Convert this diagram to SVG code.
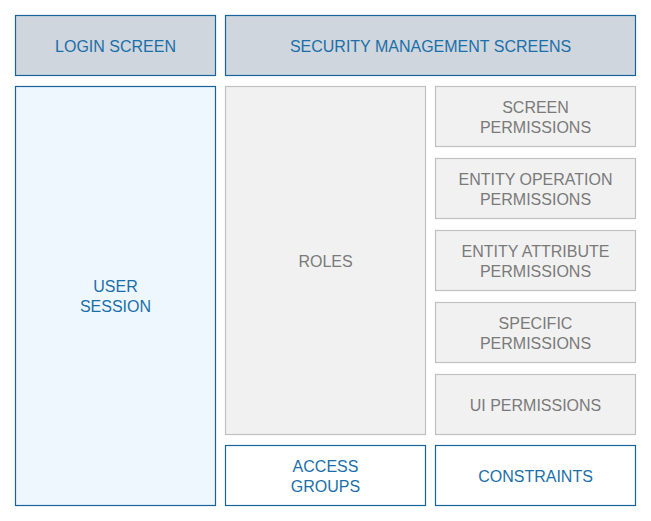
<svg xmlns="http://www.w3.org/2000/svg" width="651" height="521" viewBox="0 0 651 521">
<style>
rect{stroke-width:1.2}
.hdr{fill:#cfd6dd;stroke:#17649c}
.usr{fill:#eff7fe;stroke:#17649c}
.wht{fill:#ffffff;stroke:#17649c}
.gry{fill:#f1f1f1;stroke:#c0c0c0}
text{font-family:"Liberation Sans",Arial,sans-serif;font-size:16px;text-anchor:middle;dominant-baseline:central}
.bt{fill:#1b6fa9}
.gt{fill:#7a7a7a}
</style>
<rect width="651" height="521" fill="#ffffff" stroke="none"/>
<g id="login-screen"><rect class="hdr" x="15.5" y="15.5" width="200" height="60"/><text class="bt" x="115.5" y="46">LOGIN SCREEN</text></g>
<g id="security-management-screens"><rect class="hdr" x="225.5" y="15.5" width="410" height="60"/><text class="bt" x="430.5" y="46">SECURITY MANAGEMENT SCREENS</text></g>
<g id="user-session"><rect class="usr" x="15.5" y="86.5" width="200" height="419"/><text class="bt" x="115.5" y="286">USER</text><text class="bt" x="115.5" y="306">SESSION</text></g>
<g id="roles"><rect class="gry" x="225.5" y="86.5" width="200" height="348"/><text class="gt" x="325.5" y="261">ROLES</text></g>
<g id="screen-permissions"><rect class="gry" x="435.5" y="86.5" width="200" height="60"/><text class="gt" x="535.5" y="107">SCREEN</text><text class="gt" x="535.5" y="127">PERMISSIONS</text></g>
<g id="entity-operation-permissions"><rect class="gry" x="435.5" y="158.5" width="200" height="60"/><text class="gt" x="535.5" y="179">ENTITY OPERATION</text><text class="gt" x="535.5" y="199">PERMISSIONS</text></g>
<g id="entity-attribute-permissions"><rect class="gry" x="435.5" y="230.5" width="200" height="60"/><text class="gt" x="535.5" y="251">ENTITY ATTRIBUTE</text><text class="gt" x="535.5" y="271">PERMISSIONS</text></g>
<g id="specific-permissions"><rect class="gry" x="435.5" y="302.5" width="200" height="60"/><text class="gt" x="535.5" y="323">SPECIFIC</text><text class="gt" x="535.5" y="343">PERMISSIONS</text></g>
<g id="ui-permissions"><rect class="gry" x="435.5" y="374.5" width="200" height="60"/><text class="gt" x="535.5" y="405">UI PERMISSIONS</text></g>
<g id="access-groups"><rect class="wht" x="225.5" y="445.5" width="200" height="60"/><text class="bt" x="325.5" y="466">ACCESS</text><text class="bt" x="325.5" y="486">GROUPS</text></g>
<g id="constraints"><rect class="wht" x="435.5" y="445.5" width="200" height="60"/><text class="bt" x="535.5" y="476">CONSTRAINTS</text></g>
<g id="connectors"></g>
</svg>
